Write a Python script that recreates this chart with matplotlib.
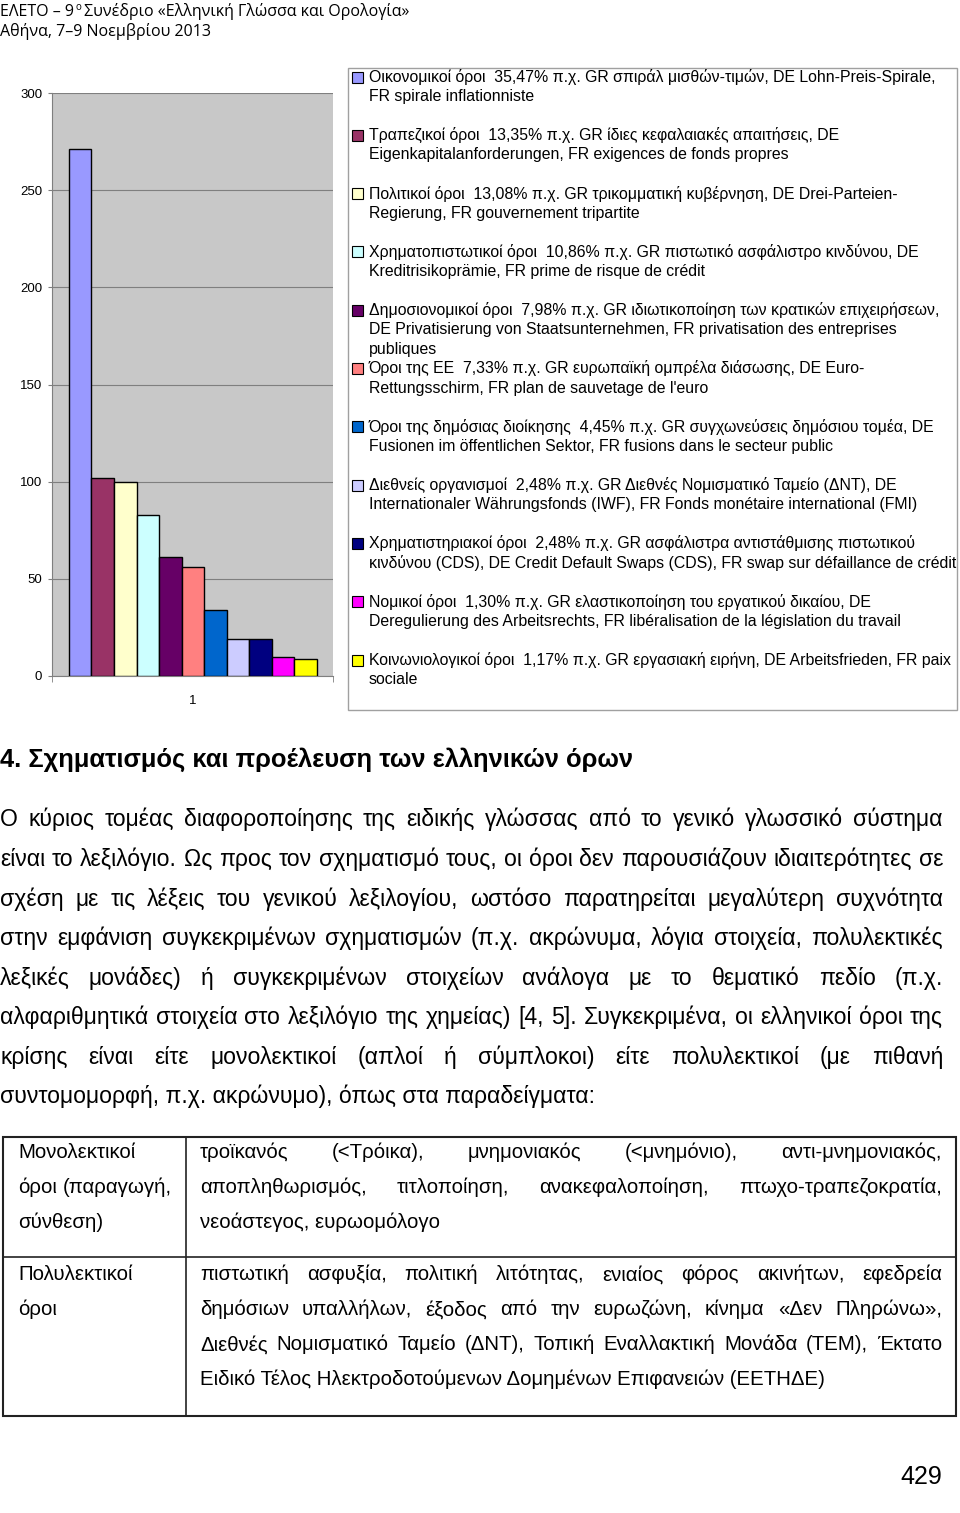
import unicodedata
import matplotlib
matplotlib.use('Agg')
import matplotlib.pyplot as plt
from matplotlib.patches import Rectangle
from matplotlib.lines import Line2D

W, H = 960, 1513
plt.rcParams['font.family'] = ['Liberation Sans', 'DejaVu Sans']

# --- chart data ---
categories = ['Οικονομικοί όροι', 'Τραπεζικοί όροι', 'Πολιτικοί όροι',
              'Χρηματοπιστωτικοί όροι', 'Δημοσιονομικοί όροι', 'Όροι της ΕΕ',
              'Όροι της δημόσιας διοίκησης', 'Διεθνείς οργανισμοί',
              'Χρηματιστηριακοί όροι', 'Νομικοί όροι', 'Κοινωνιολογικοί όροι']
values = [271, 102, 100, 83, 61, 56, 34, 19, 19, 10, 9]
colors = ['#9999FF', '#993366', '#FFFFCC', '#CCFFFF', '#660066', '#FF8080',
          '#0066CC', '#CCCCFF', '#000080', '#FF00FF', '#FFFF00']
yticks = [0, 50, 100, 150, 200, 250, 300]
xlabel = '1'

legend_lines = [
    ['Οικονομικοί όροι  35,47% π.χ. GR σπιράλ μισθών-τιμών, DE Lohn-Preis-Spirale,',
     'FR spirale inflationniste'],
    ['Τραπεζικοί όροι  13,35% π.χ. GR ίδιες κεφαλαιακές απαιτήσεις, DE',
     'Eigenkapitalanforderungen, FR exigences de fonds propres'],
    ['Πολιτικοί όροι  13,08% π.χ. GR τρικομματική κυβέρνηση, DE Drei-Parteien-',
     'Regierung, FR gouvernement tripartite'],
    ['Χρηματοπιστωτικοί όροι  10,86% π.χ. GR πιστωτικό ασφάλιστρο κινδύνου, DE',
     'Kreditrisikoprämie, FR prime de risque de crédit'],
    ['Δημοσιονομικοί όροι  7,98% π.χ. GR ιδιωτικοποίηση των κρατικών επιχειρήσεων,',
     'DE Privatisierung von Staatsunternehmen, FR privatisation des entreprises',
     'publiques'],
    ['Όροι της ΕΕ  7,33% π.χ. GR ευρωπαϊκή ομπρέλα διάσωσης, DE Euro-',
     "Rettungsschirm, FR plan de sauvetage de l'euro"],
    ['Όροι της δημόσιας διοίκησης  4,45% π.χ. GR συγχωνεύσεις δημόσιου τομέα, DE',
     'Fusionen im öffentlichen Sektor, FR fusions dans le secteur public'],
    ['Διεθνείς οργανισμοί  2,48% π.χ. GR Διεθνές Νομισματικό Ταμείο (ΔΝΤ), DE',
     'Internationaler Währungsfonds (IWF), FR Fonds monétaire international (FMI)'],
    ['Χρηματιστηριακοί όροι  2,48% π.χ. GR ασφάλιστρα αντιστάθμισης πιστωτικού',
     'κινδύνου (CDS), DE Credit Default Swaps (CDS), FR swap sur défaillance de crédit'],
    ['Νομικοί όροι  1,30% π.χ. GR ελαστικοποίηση του εργατικού δικαίου, DE',
     'Deregulierung des Arbeitsrechts, FR libéralisation de la législation du travail'],
    ['Κοινωνιολογικοί όροι  1,17% π.χ. GR εργασιακή ειρήνη, DE Arbeitsfrieden, FR paix',
     'sociale'],
]

# --- page text ---
header = ['ΕΛΕΤΟ – 9', 'ο', ' Συνέδριο «Ελληνική Γλώσσα και Ορολογία»']
header2 = 'Αθήνα, 7–9 Νοεμβρίου 2013'
heading = '4. Σχηματισμός και προέλευση των ελληνικών όρων'
paragraph = [
    'Ο κύριος τομέας διαφοροποίησης της ειδικής γλώσσας από το γενικό γλωσσικό σύστημα',
    'είναι το λεξιλόγιο. Ως προς τον σχηματισμό τους, οι όροι δεν παρουσιάζουν ιδιαιτερότητες σε',
    'σχέση με τις λέξεις του γενικού λεξιλογίου, ωστόσο παρατηρείται μεγαλύτερη συχνότητα',
    'στην εμφάνιση συγκεκριμένων σχηματισμών (π.χ. ακρώνυμα, λόγια στοιχεία, πολυλεκτικές',
    'λεξικές μονάδες) ή συγκεκριμένων στοιχείων ανάλογα με το θεματικό πεδίο (π.χ.',
    'αλφαριθμητικά στοιχεία στο λεξιλόγιο της χημείας) [4, 5]. Συγκεκριμένα, οι ελληνικοί όροι της',
    'κρίσης είναι είτε μονολεκτικοί (απλοί ή σύμπλοκοι) είτε πολυλεκτικοί (με πιθανή',
    'συντομομορφή, π.χ. ακρώνυμο), όπως στα παραδείγματα:',
]
table_left = [['Μονολεκτικοί', 'όροι (παραγωγή,', 'σύνθεση)'],
              ['Πολυλεκτικοί', 'όροι']]
table_right = [
    ['τροϊκανός (<Τρόικα), μνημονιακός (<μνημόνιο), αντι-μνημονιακός,',
     'αποπληθωρισμός, τιτλοποίηση, ανακεφαλοποίηση, πτωχο-τραπεζοκρατία,',
     'νεοάστεγος, ευρωομόλογο'],
    ['πιστωτική ασφυξία, πολιτική λιτότητας, ενιαίος φόρος ακινήτων, εφεδρεία',
     'δημόσιων υπαλλήλων, έξοδος από την ευρωζώνη, κίνημα «Δεν Πληρώνω»,',
     'Διεθνές Νομισματικό Ταμείο (ΔΝΤ), Τοπική Εναλλακτική Μονάδα (ΤΕΜ), Έκτατο',
     'Ειδικό Τέλος Ηλεκτροδοτούμενων Δομημένων Επιφανειών (ΕΕΤΗΔΕ)'],
]
page_no = '429'

fig = plt.figure(figsize=(W / 100, H / 100), dpi=100)
fig.patch.set_facecolor('white')
renderer = fig.canvas.get_renderer()


def fx(x):
    return x / W


def fy(y):
    return 1 - y / H


def nfc(s):
    return unicodedata.normalize('NFC', s)


def text_width(t):
    return t.get_window_extent(renderer).width


def put_line(s, x0, x1, y, size, justify=True, **kw):
    # y is the visual middle of the line; words sit on a common baseline
    s = nfc(s)
    yb = fy(y + 0.36 * size * 100 / 72)
    if not justify or ' ' not in s:
        return fig.text(fx(x0), yb, s, fontsize=size, va='baseline', **kw)
    words = s.split()
    parts = [fig.text(0, yb, w, fontsize=size, va='baseline', **kw) for w in words]
    widths = [text_width(p) for p in parts]
    gap = (x1 - x0 - sum(widths)) / (len(words) - 1)
    x = x0
    for p, w in zip(parts, widths):
        p.set_x(fx(x))
        x += w + gap


# --- bar chart ---
ax = fig.add_axes([fx(52), fy(676), fx(333) - fx(52), fy(93) - fy(676)])
ax.set_facecolor('#C8C8C8')
xs = list(range(len(values)))
ax.bar(xs, values, width=1.0, color=colors, edgecolor='black', linewidth=1, zorder=3)
ax.set_xlim(-1.25, len(values) - 1 + 1.22)
ax.set_ylim(0, 300)
ax.set_yticks(yticks)
ax.set_yticklabels([str(v) for v in yticks], fontsize=9.5)
ax.yaxis.grid(True, color='#7F7F7F', linewidth=0.8, zorder=0)
ax.set_axisbelow(True)
ax.set_xticks([(len(values) - 1) / 2])
ax.set_xticklabels([xlabel], fontsize=9.5)
ax.tick_params(axis='x', length=0, pad=14)
ax.tick_params(axis='y', length=3, color='#7F7F7F', pad=4)
ax.set_xticks([ax.get_xlim()[0], ax.get_xlim()[1]], minor=True)
ax.tick_params(axis='x', which='minor', length=4, color='#7F7F7F')
for side in ['top', 'right']:
    ax.spines[side].set_visible(False)
for side in ['left', 'bottom']:
    ax.spines[side].set_color('#7F7F7F')

# --- legend box ---
fig.patches.append(Rectangle((fx(348), fy(710)), fx(957) - fx(348), fy(68) - fy(710),
                             transform=fig.transFigure, facecolor='white',
                             edgecolor='#A0A0A0', linewidth=1))
for i, (lines, c) in enumerate(zip(legend_lines, colors)):
    y0 = 77 + i * 58.3
    fig.patches.append(Rectangle((fx(352), fy(y0 + 5.5)), fx(11), 11 / H,
                                 transform=fig.transFigure, facecolor=c,
                                 edgecolor='black', linewidth=0.8))
    for j, s in enumerate(lines):
        fig.text(fx(369), fy(y0 + j * 19.5), nfc(s), fontsize=11.4, va='center')

# --- header ---
hsize = 11.5
x = 0
for k, part in enumerate(header):
    if k == 1:
        t = fig.text(fx(x + 1), fy(7), part, fontsize=7, va='center', family='Open Sans')
    else:
        t = fig.text(fx(x), fy(12), nfc(part), fontsize=hsize, va='center', family='Open Sans')
    x += text_width(t)
fig.text(0, fy(32), nfc(header2), fontsize=hsize, va='center', family='Open Sans')

# --- heading and paragraph ---
fig.text(0, fy(760), nfc(heading), fontsize=18.4, fontweight='bold', va='center')
for i, s in enumerate(paragraph):
    put_line(s, 0, 943, 818 + i * 39.6, 16.6, justify=(i < len(paragraph) - 1))

# --- table ---
lc = '#222222'
fig.patches.append(Rectangle((fx(3), fy(1416)), fx(956) - fx(3), fy(1137) - fy(1416),
                             transform=fig.transFigure, facecolor='none',
                             edgecolor=lc, linewidth=1.5))
fig.lines.append(Line2D([fx(186), fx(186)], [fy(1137), fy(1416)],
                        transform=fig.transFigure, color=lc, linewidth=1.2))
fig.lines.append(Line2D([fx(3), fx(956)], [fy(1257), fy(1257)],
                        transform=fig.transFigure, color=lc, linewidth=1.2))
row_top = [1151, 1273]
for r in range(2):
    for j, s in enumerate(table_left[r]):
        put_line(s, 18, 172, row_top[r] + j * 35, 14.7)
    rows = table_right[r]
    for j, s in enumerate(rows):
        put_line(s, 200, 942, row_top[r] + j * 35, 14.7, justify=(j < len(rows) - 1))

fig.text(fx(942), fy(1477), page_no, fontsize=18, ha='right', va='center')

fig.savefig('out.png', dpi=100)
